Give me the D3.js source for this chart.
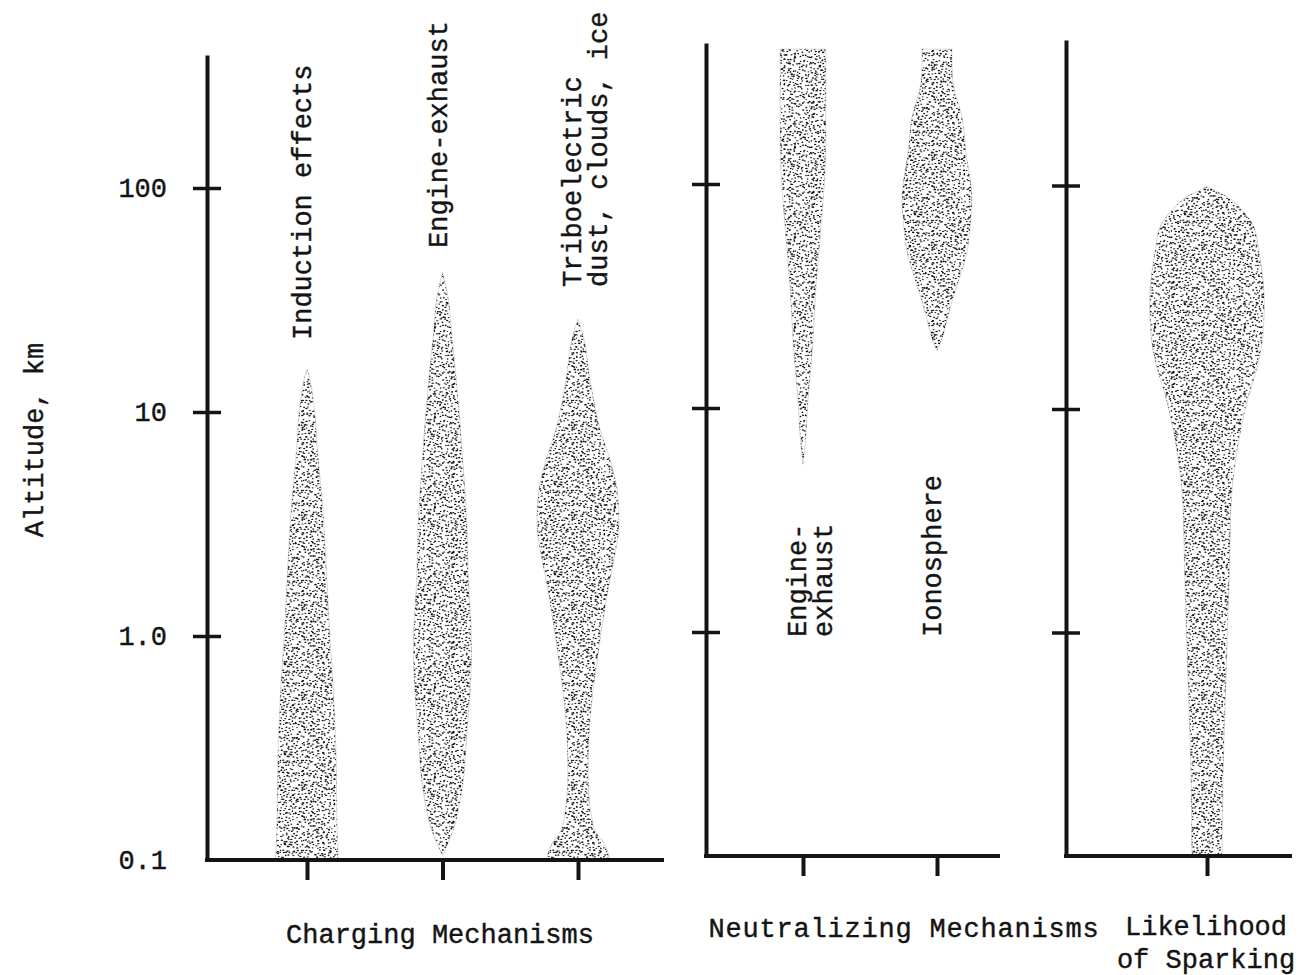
<!DOCTYPE html>
<html>
<head>
<meta charset="utf-8">
<script src="https://cdn.jsdelivr.net/npm/d3@7/dist/d3.min.js"></script>
<style>
  html, body { margin: 0; background: #fff; }
  svg { display: block; }
</style>
</head>
<body>
<svg id="chart" width="1306" height="975"></svg>
<script>
/* ── DATA — altitude (km) against relative extent (1 = widest band) ── */
const CHARGING_CATS = ['Induction effects', 'Engine-exhaust', 'Triboelectric'];
const NEUTRAL_CATS  = ['Engine-exhaust', 'Ionosphere'];
const SPARK_CATS    = ['Likelihood of Sparking'];

const Y_TICKS       = [0.1, 1, 10, 100];
const Y_TICK_LABELS = ['0.1', '1.0', '10', '100'];

const inductionAlt = [0.1, 0.15, 0.32, 0.63, 1.0, 1.8, 3.5, 7, 10, 13.9, 15.5];
const inductionRel = [0.52, 0.50, 0.48, 0.43, 0.38, 0.33, 0.27, 0.17, 0.13, 0.05, 0];

const engineChAlt = [0.105, 0.12, 0.136, 0.16, 0.23, 0.35, 0.63, 1.03, 1.78, 3.0, 5.0, 8.3, 13.9, 22.5, 31.6, 42];
const engineChRel = [0, 0.10, 0.18, 0.25, 0.35, 0.40, 0.47, 0.48, 0.43, 0.41, 0.36, 0.30, 0.23, 0.15, 0.10, 0];

const triboAlt = [0.1, 0.107, 0.12, 0.136, 0.16, 0.2, 0.27, 0.45, 0.89, 1.6, 2.2, 3.0, 4.5, 6.3, 8.3, 13.9, 20, 26];
const triboRel = [0.52, 0.50, 0.42, 0.28, 0.22, 0.18, 0.17, 0.21, 0.35, 0.50, 0.60, 0.68, 0.65, 0.52, 0.37, 0.20, 0.12, 0];

const engineNeuAlt = [5.6, 7.65, 10.7, 15.1, 21, 36, 60, 118, 200, 400];
const engineNeuRel = [0, 0.05, 0.08, 0.13, 0.17, 0.22, 0.29, 0.37, 0.38, 0.38];

const ionoAlt = [18, 21, 25, 30, 40, 50, 68, 90, 140, 197, 279, 400];
const ionoRel = [0, 0.10, 0.17, 0.25, 0.40, 0.50, 0.56, 0.58, 0.48, 0.42, 0.27, 0.25];

const sparkAlt = [0.1, 0.25, 0.67, 1.77, 4.7, 9.8, 15.9, 20, 33, 53.8, 65.5, 75.7, 87.5, 95, 99];
const sparkRel = [0.25, 0.27, 0.32, 0.37, 0.43, 0.63, 0.85, 0.92, 0.95, 0.85, 0.78, 0.62, 0.38, 0.13, 0];

/* ── LAYOUT ── */
const FONT = "'Liberation Mono', 'Courier New', monospace";
const INK  = '#141414';
const HALF_MAX = 60;   // px half-width for rel = 1

const zip = (a, r) => a.map((alt, i) => ({ alt, rel: r[i] }));

const PANELS = [
  { axisX: 207, endX: 664, top: 55, bottom: 860, decade: 224, tickLabels: true,
    cats: CHARGING_CATS, catRange: [307, 578],
    series: [zip(inductionAlt, inductionRel), zip(engineChAlt, engineChRel), zip(triboAlt, triboRel)],
    labels: [
      { lines: ['Induction effects'], start: 340 },
      { lines: ['Engine-exhaust'], start: 248 },
      { lines: ['Triboelectric', 'dust, clouds, ice'], start: 287 }
    ],
    title: ['Charging Mechanisms'], titleX: 440, titleY: 943, spacing: 0 },
  { axisX: 706, endX: 1000, top: 43, bottom: 856, decade: 224, tickLabels: false,
    cats: NEUTRAL_CATS, catRange: [803, 937],
    series: [zip(engineNeuAlt, engineNeuRel), zip(ionoAlt, ionoRel)],
    labels: [
      { lines: ['Engine-', 'exhaust'], start: 637 },
      { lines: ['Ionosphere'], start: 637 }
    ],
    title: ['Neutralizing Mechanisms'], titleX: 904, titleY: 937, spacing: 0.8 },
  { axisX: 1066, endX: 1292, top: 40, bottom: 856, decade: 223.5, tickLabels: false,
    cats: SPARK_CATS, catRange: [1207, 1207],
    series: [zip(sparkAlt, sparkRel)],
    labels: [],
    title: ['Likelihood', 'of Sparking'], titleX: 1206, titleY: 935, spacing: 0 }
];

const svg = d3.select('#chart');

/* stipple texture: jittered dot grid (decorative tile only, not data) */
const TILE = 90, CELL = 3;
const pat = svg.append('defs').append('pattern')
  .attr('id', 'stipple').attr('patternUnits', 'userSpaceOnUse')
  .attr('width', TILE).attr('height', TILE);
let seed = 9173;
const lcg = () => (seed = (seed * 16807) % 2147483647) / 2147483647;
for (let gy = 0; gy < TILE; gy += CELL) {
  for (let gx = 0; gx < TILE; gx += CELL) {
    if (lcg() < 0.12) continue;
    pat.append('ellipse')
      .attr('cx', gx + lcg() * CELL).attr('cy', gy + lcg() * CELL)
      .attr('rx', 0.75 + lcg() * 0.6).attr('ry', 0.55 + lcg() * 0.35)
      .attr('fill', INK);
  }
}

const widthScale = d3.scaleLinear().domain([0, 1]).range([0, HALF_MAX]);

PANELS.forEach(p => {
  const topAlt = 0.1 * Math.pow(10, (p.bottom - p.top) / p.decade);
  const y = d3.scaleLog().domain([0.1, topAlt]).range([p.bottom, p.top]);
  const x = d3.scalePoint().domain(p.cats).range(p.catRange);
  const g = svg.append('g');

  /* shapes */
  p.series.forEach((pts, i) => {
    const cx = x(p.cats[i]);
    const area = d3.area()
      .curve(d3.curveCatmullRom.alpha(0.5))
      .y(d => y(d.alt))
      .x0(d => cx - widthScale(d.rel))
      .x1(d => cx + widthScale(d.rel));
    g.append('path').datum(pts)
      .attr('d', area)
      .attr('fill', 'url(#stipple)')
      .attr('stroke', '#444').attr('stroke-width', 0.5).attr('stroke-opacity', 0.4);
  });

  /* y axis */
  const yAx = g.append('g').attr('transform', `translate(${p.axisX},0)`)
    .call(d3.axisLeft(y)
      .tickValues(p.tickLabels ? Y_TICKS : Y_TICKS.slice(1))
      .tickSizeInner(14).tickSizeOuter(0).tickPadding(26)
      .tickFormat(d => p.tickLabels ? Y_TICK_LABELS[Y_TICKS.indexOf(d)] : ''));
  yAx.select('.domain').attr('stroke', INK).attr('stroke-width', 4);
  yAx.selectAll('.tick line')
    .attr('x1', -14).attr('x2', 14)
    .attr('stroke', INK).attr('stroke-width', 3.5)
    .filter(d => d === 0.1).remove();
  yAx.selectAll('.tick text')
    .style('font-family', FONT).style('font-size', '27px')
    .attr('fill', INK).attr('stroke', INK).attr('stroke-width', 0.4);

  /* x axis baseline + category ticks */
  g.append('line')
    .attr('x1', p.axisX - 2).attr('x2', p.endX)
    .attr('y1', p.bottom).attr('y2', p.bottom)
    .attr('stroke', INK).attr('stroke-width', 4);
  const xAx = g.append('g').attr('transform', `translate(0,${p.bottom})`)
    .call(d3.axisBottom(x).tickSize(20).tickFormat(''));
  xAx.select('.domain').remove();
  xAx.selectAll('.tick line').attr('stroke', INK).attr('stroke-width', 4);

  /* rotated series labels */
  p.labels.forEach((lab, i) => {
    const cx = x(p.cats[i]);
    lab.lines.forEach((txt, j) => {
      const bx = lab.lines.length === 1 ? cx + 4 : cx + 3 + j * 26;
      g.append('text')
        .attr('transform', `translate(${bx},${lab.start}) rotate(-90)`)
        .style('font-family', FONT).style('font-size', '27px')
        .attr('fill', INK).attr('stroke', INK).attr('stroke-width', 0.4)
        .text(txt);
    });
  });

  /* panel title */
  p.title.forEach((txt, j) => {
    g.append('text')
      .attr('x', p.titleX).attr('y', p.titleY + j * 33)
      .attr('text-anchor', 'middle')
      .style('font-family', FONT).style('font-size', '27px')
      .style('letter-spacing', p.spacing + 'px')
      .attr('fill', INK).attr('stroke', INK).attr('stroke-width', 0.4)
      .text(txt);
  });
});

/* y label */
svg.append('text')
  .attr('transform', 'translate(43,440) rotate(-90)')
  .attr('text-anchor', 'middle')
  .style('font-family', FONT).style('font-size', '27px')
  .attr('fill', INK).attr('stroke', INK).attr('stroke-width', 0.4)
  .text('Altitude, km');
</script>
</body>
</html>
